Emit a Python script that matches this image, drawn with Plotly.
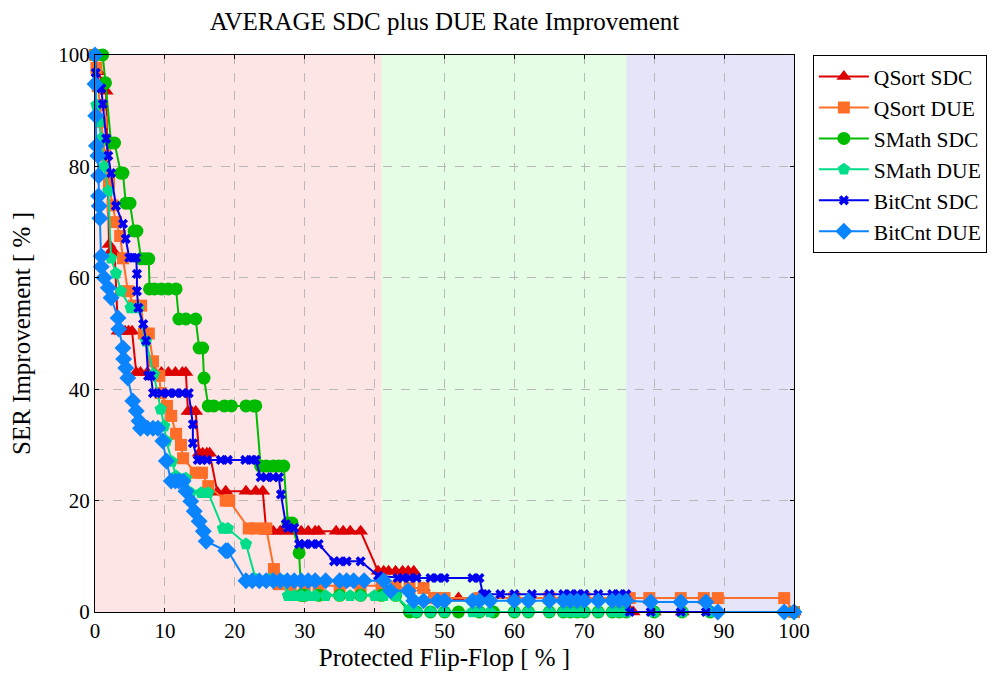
import plotly.graph_objects as go

# ---------------- data ----------------
qsort_sdc_x = [0, 0.5, 1.0, 1.6, 2.0, 2.3, 2.8, 3.3, 3.8, 4.3, 4.8, 5.3, 5.9, 6.5, 7.5, 8.5, 9.5, 10.5, 11.5, 12.5, 13.0,
               13.3, 13.8, 14.4, 14.9, 15.4, 16.0, 16.4, 17.5, 18.7, 21.6, 23.0, 24.0, 24.5, 25.5, 26.5, 27.5, 28.5,
               29.5, 30.5, 31.5, 32.0, 34.5, 35.5, 36.5, 38.0, 40.5, 41.3, 42.0, 43.0, 44.0, 44.8, 45.6, 47.0, 48.5,
               52.0, 56.0, 60.0, 65.0, 70.0, 76.0, 77.0, 80.0, 84.0, 88.0, 100.0]
qsort_sdc_y = [100, 97, 95, 93.5, 66, 64.8, 64.5, 50.4, 50.4, 50.4, 50.4, 50.4, 43, 43, 43, 43, 43, 43, 43, 43, 43,
               36, 36, 36, 28.5, 28.5, 28.5, 28.5, 21.5, 21.7, 21.7, 21.7, 21.7, 14.5, 14.5, 14.5, 14.5, 14.5,
               14.5, 14.5, 14.5, 14.5, 14.5, 14.5, 14.5, 14.5, 7.3, 7.3, 7.3, 7.3, 7.3, 7.3, 7.3, 4.3, 2.5,
               2.5, 2.5, 2.5, 2.5, 2.5, 2.5, 0, 0, 0, 0, 0]

qsort_due_x = [0, 0.2, 0.4, 0.7, 0.9, 1.4, 2.0, 2.5, 3.0, 3.6, 4.0, 4.7, 5.6, 6.6, 7.0, 7.7, 8.3, 9.2, 9.4, 10.3, 10.9,
               11.6, 12.3, 12.6, 14.4, 15.3, 16.2, 18.7, 19.2, 22.0, 23.0, 24.5, 25.6, 26.3, 28.0, 30.0, 32.0, 35.0,
               38.0, 41.0, 43.0, 45.0, 47.0, 48.5, 50.0, 55.0, 60.0, 65.0, 70.0, 76.5, 79.3, 83.8, 87.1, 89.1, 98.6,
               100.0]
qsort_due_y = [100, 97.7, 94.4, 91, 88, 82, 77, 73, 70, 67.5, 63.5, 57.6, 55, 55, 50, 50, 45, 42.4, 39.3, 37, 35.2,
               32, 30, 27.6, 25, 25, 22.6, 20, 20, 15, 15, 15, 7.7, 5, 4.7, 4.7, 4.7, 4.7,
               4.7, 4.7, 4.5, 4.3, 4.3, 2.5, 2.5, 2.5, 2.5, 2.5, 2.5, 2.5, 2.5, 2.5, 2.5, 2.5, 2.5,
               0]

smath_sdc_x = [0, 1.1, 1.5, 2.3, 2.8, 3.7, 4.0, 4.4, 5.0, 5.6, 6.0, 6.6, 7.2, 7.7, 7.8, 8.5, 9.5, 10.5, 11.6, 12.0,
               13.0, 14.4, 14.9, 15.4, 15.6, 16.2, 17.0, 18.5, 19.5, 21.6, 22.7, 23.0, 23.7, 24.5, 25.5, 26.3,
               27.0, 27.6, 28.2, 29.2, 29.5, 30.0, 32.0, 35.0, 38.0, 41.0, 43.0, 45.0, 46.0, 48.0, 50.0, 52.0,
               55.0, 57.0, 60.0, 62.0, 65.0, 67.0, 68.0, 69.0, 70.0, 72.0, 74.0, 75.0, 76.0, 80.0, 84.0, 88.0,
               100.0]
smath_sdc_y = [100, 100, 95, 84.2, 84.2, 78.8, 78.8, 73.4, 73.4, 68.4, 68.4, 63.4, 63.4, 63.4, 58, 58, 58, 58, 58, 52.6,
               52.6, 52.6, 47.4, 47.4, 42, 37, 37, 37, 37, 37, 37, 37, 26.2, 26.2, 26.2, 26.2,
               26.2, 16, 16, 10.6, 3, 3, 3, 3, 3, 3, 3, 0, 0, 0, 0, 0,
               0, 0, 0, 0, 0, 0, 0, 0, 0, 0, 0, 0, 0, 0, 0, 0,
               0]

smath_due_x = [0, 0.2, 0.6, 0.9, 1.3, 1.9, 2.3, 3.0, 3.7, 5.1, 6.2, 7.3, 8.4, 9.4, 9.9, 10.2, 11.0, 11.6, 13.0, 13.7,
               15.2, 16.2, 18.3, 19.0, 21.6, 23.0, 25.0, 27.0, 27.6, 28.5, 29.5, 30.5, 31.5, 33.0, 35.0, 36.5, 38.0,
               40.0, 41.3, 43.0, 45.0, 46.0, 48.0, 50.0, 54.0, 55.0, 56.5, 60.0, 62.0, 65.0, 67.0, 68.0, 69.0, 70.0,
               72.0, 74.0, 75.0, 76.0, 80.0, 84.0, 88.0, 100.0]
smath_due_y = [100, 91, 88, 85, 80, 75.6, 63.5, 60.8, 57.6, 54.6, 54.6, 48.6, 42.7, 36.4, 33.4, 30.7, 27, 24.4, 24, 21.4,
               21.4, 21.4, 15, 15, 12.2, 5.9, 5.9, 5.6, 2.9, 2.9, 2.9, 2.9, 2.9, 2.9, 2.9, 2.9, 2.9,
               2.9, 2.9, 2.9, 0.5, 0, 0, 0, 0, 0, 0, 0, 0, 0, 0, 0, 0, 0,
               0, 0, 0, 0, 0, 0, 0, 0]

bitcnt_sdc_x = [0, 0.1, 0.9, 1.1, 1.6, 1.9, 2.3, 3.0, 4.0, 4.4, 4.9, 5.4, 5.9, 6.0, 6.0, 6.2, 6.9, 7.3, 7.6, 8.0, 8.3,
                9.5, 10.5, 11.5, 12.5, 13.4, 14.0, 14.0, 14.7, 15.3, 16.0, 18.0, 19.0, 21.5, 22.5, 23.0, 23.7, 24.5,
                25.5, 26.3, 26.6, 27.3, 27.6, 28.5, 29.2, 30.0, 31.0, 32.0, 34.2, 35.0, 36.0, 38.0, 40.5, 43.3, 44.0,
                45.0, 46.0, 48.0, 49.0, 50.0, 54.0, 55.0, 55.5, 56.0, 58.0, 60.0, 62.5, 65.0, 67.0, 68.0, 69.0, 70.0,
                72.0, 74.0, 75.0, 76.0, 76.5, 79.5, 83.8, 87.4, 100.0]
bitcnt_sdc_y = [100, 96.8, 94, 91.2, 85, 81.9, 78.8, 72.9, 69.7, 67, 63.6, 63.6, 63.6, 60.7, 57.6, 54.6, 51.7, 48.7, 42.4, 42.4, 39.3,
                39.3, 39.3, 39.3, 39.3, 39.3, 33.7, 30.3, 27.3, 27.3, 27.3, 27.3, 27.3, 27.3, 27.3, 27.3, 24.2, 24.2,
                24.2, 24.2, 21.1, 15.8, 15.1, 15.1, 12.2, 12.2, 12.2, 12.2, 9.1, 9.1, 9.1, 9.1, 6.5, 6.1, 6.1,
                6.1, 6.1, 6.1, 6.1, 6.1, 6.1, 6.1, 3.2, 3.2, 3.2, 3.2, 3.2, 3.2, 3.2, 3.2, 3.2, 3.2,
                3.2, 3.2, 3.2, 3.2, 0, 0, 0, 0, 0]

bitcnt_due_x = [0, 0, 0.1, 0.2, 0.4, 0.5, 0.5, 0.6, 0.7, 0.9, 0.9, 1.3, 1.9, 2.3, 3.3, 3.4, 4.0, 4.1, 4.4, 4.7, 5.4,
                5.9, 6.3, 6.5, 7.5, 8.3, 9.0, 9.7, 10.2, 10.9, 11.5, 12.0, 12.6, 13.0, 13.7, 14.2, 14.9, 15.5, 15.9,
                18.7, 19.0, 21.6, 22.5, 23.5, 24.5, 25.5, 26.5, 27.5, 28.5, 29.5, 30.5, 31.5, 33.0, 35.0, 36.0, 37.0,
                38.5, 41.3, 42.3, 44.8, 45.6, 47.0, 49.0, 50.0, 54.0, 55.0, 56.5, 60.0, 62.0, 65.0, 67.0, 68.0, 69.0,
                70.0, 72.0, 74.0, 75.0, 76.0, 79.5, 83.8, 87.4, 89.1, 98.6, 100.0]
bitcnt_due_y = [100, 94.8, 89.1, 83.7, 81.9, 78.3, 74.7, 72.9, 70.7, 63.9, 62, 60, 58.2, 56.4, 52.8, 50.8, 47.4, 45.4, 43.8, 42, 37.9,
                36.1, 34.3, 33, 33, 33, 33, 30.7, 27.1, 23.5, 23.5, 23.5, 23.5, 21.7, 19.9, 18.1, 16.3, 14.5, 12.7,
                11, 11, 5.6, 5.6, 5.6, 5.6, 5.6, 5.6, 5.6, 5.6, 5.6, 5.6, 5.6, 5.6, 5.6, 5.6, 5.6,
                5.6, 5.6, 3.8, 3.8, 2, 2, 2, 2, 2, 2, 2, 2, 2, 2, 2, 2, 2,
                2, 2, 2, 2, 2, 1.8, 1.8, 1.8, 0, 0, 0]

series_names = ["QSort SDC", "QSort DUE", "SMath SDC", "SMath DUE", "BitCnt SDC", "BitCnt DUE"]
x_ticks = [0, 10, 20, 30, 40, 50, 60, 70, 80, 90, 100]
y_ticks = [0, 20, 40, 60, 80, 100]

series = [
    (series_names[0], qsort_sdc_x, qsort_sdc_y, "#DD0000", "triangle-up", 13),
    (series_names[1], qsort_due_x, qsort_due_y, "#FF6E28", "square", 12),
    (series_names[2], smath_sdc_x, smath_sdc_y, "#00BB00", "circle", 13),
    (series_names[3], smath_due_x, smath_due_y, "#00DD88", "pentagon", 13),
    (series_names[4], bitcnt_sdc_x, bitcnt_sdc_y, "#0000EE", "x", 9),
    (series_names[5], bitcnt_due_x, bitcnt_due_y, "#0A84FF", "diamond", 13),
]

bands = [(0, 41, "#FDE5E5"), (41, 76, "#E5FCE5"), (76, 100, "#E5E5FA")]

TEXT_FONT = "Liberation Serif"
NUM_FONT = "Liberation Serif"
AXIS_TITLE_FONT = dict(family=TEXT_FONT, size=25, color="black")

fig = go.Figure()
for name, xs, ys, color, sym, size in series:
    fig.add_trace(go.Scatter(
        x=xs, y=ys, name=name, mode="lines+markers",
        line=dict(color=color, width=2),
        marker=dict(symbol=sym, size=size, color=color, line=dict(width=0, color=color)),
        cliponaxis=False,
    ))

for x0, x1, c in bands:
    fig.add_shape(type="rect", xref="x", yref="y", x0=x0, x1=x1, y0=0, y1=100,
                  fillcolor=c, line=dict(width=0), layer="below")

fig.update_layout(
    width=1001, height=680,
    margin=dict(l=87, r=215, t=47, b=76),
    paper_bgcolor="white", plot_bgcolor="white",
    font=dict(family=TEXT_FONT, size=21, color="black"),
    title=dict(text="AVERAGE SDC plus DUE Rate Improvement", x=0.5, xref="paper",
               y=0.981, yref="container", yanchor="middle", font=dict(size=25, family=TEXT_FONT)),
    legend=dict(x=1.027, y=1.0, xanchor="left", yanchor="top",
                bordercolor="black", borderwidth=1, bgcolor="white", itemwidth=50,
                font=dict(size=21.5, family=TEXT_FONT), tracegroupgap=0),
    showlegend=True,
)
fig.update_xaxes(range=[0, 100], tickvals=x_ticks,
                 showgrid=True, gridcolor="#B8B8B8", griddash="dash", gridwidth=1,
                 showline=True, linecolor="black", linewidth=1, mirror="ticks",
                 ticks="inside", ticklen=4, tickcolor="black", zeroline=False,
                 title=dict(text="Protected Flip-Flop [ % ]", standoff=6, font=AXIS_TITLE_FONT),
                 tickfont=dict(size=21, family=NUM_FONT))
fig.update_yaxes(range=[0, 100], tickvals=y_ticks,
                 showgrid=True, gridcolor="#B8B8B8", griddash="dash", gridwidth=1,
                 showline=True, linecolor="black", linewidth=1, mirror="ticks",
                 ticks="inside", ticklen=4, tickcolor="black", zeroline=False,
                 title=dict(text="SER Improvement [ % ]", standoff=21, font=AXIS_TITLE_FONT),
                 tickfont=dict(size=21, family=NUM_FONT))

fig.write_html("out.html")
